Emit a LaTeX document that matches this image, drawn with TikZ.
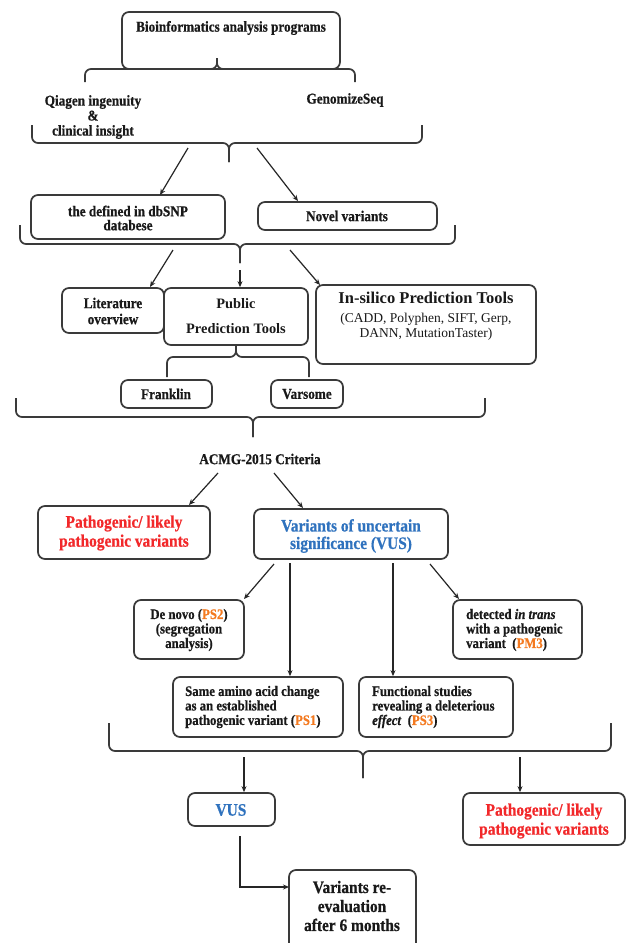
\documentclass[tikz,border=0pt]{standalone}
\usepackage{fontspec}
\setmainfont{Liberation Serif}[FakeStretch=0.88,BoldFeatures={FakeBold=0.6},BoldItalicFeatures={FakeBold=0.6}]
\newfontfamily\plainserif{Liberation Serif}
\usetikzlibrary{arrows.meta}
\definecolor{boxline}{HTML}{3A3A3A}
\definecolor{myred}{HTML}{F2282A}
\definecolor{myblue}{HTML}{2F72BE}
\definecolor{myorange}{HTML}{F47A20}
\newcommand\acode[1]{\textcolor{myorange}{#1}}
\newcommand\fsz[2]{\fontsize{#1}{#2}\selectfont}
\begin{document}
\begin{tikzpicture}[x=1pt,y=-1pt,
  box/.style={draw=boxline, line width=1.7pt, rounded corners=7pt, inner sep=0pt},
  txt/.style={inner sep=0pt, align=center, text=black!90, font=\bfseries\fsz{15}{15}},
  lowtxt/.style={inner sep=0pt, text=black!90, font=\bfseries\fsz{14.5}{14.5}},
  redtxt/.style={inner sep=0pt, align=center, text=myred, font=\bfseries\fsz{17.5}{19}},
  bluetxt/.style={inner sep=0pt, align=center, text=myblue, font=\bfseries\fsz{17.5}{17.5}},
  arr/.style={draw=black!85, line width=1.2pt, -{Stealth[length=6pt,width=5pt]}},
  brc/.style={draw=boxline, line width=1.7pt, rounded corners=6pt}]
\clip (0,0) rectangle (626,943);
\fill[white] (0,0) rectangle (626,943);

% ---------- boxes ----------
\node[box, minimum width=218, minimum height=57] (bio) at (231,40.5) {};
\node[box, minimum width=194, minimum height=44] (dbsnp) at (128,217) {};
\node[box, minimum width=179, minimum height=28] (novel) at (347.5,216) {};
\node[box, minimum width=102, minimum height=45] (lit) at (113,310.5) {};
\node[box, minimum width=144, minimum height=57] (pub) at (236,316.5) {};
\node[box, minimum width=220, minimum height=79] (insil) at (426,324.5) {};
\node[box, minimum width=91, minimum height=28] (frank) at (166.5,394) {};
\node[box, minimum width=72, minimum height=28] (vars) at (307,394) {};
\node[box, minimum width=172, minimum height=53] (path1) at (124,532.5) {};
\node[box, minimum width=194, minimum height=50] (vus) at (351,534) {};
\node[box, minimum width=110, minimum height=59] (denovo) at (189,629.5) {};
\node[box, minimum width=129, minimum height=59] (detect) at (517.5,629.5) {};
\node[box, minimum width=170, minimum height=60] (same) at (258,707) {};
\node[box, minimum width=154, minimum height=60] (func) at (436,707) {};
\node[box, minimum width=87, minimum height=33] (vus2) at (231.5,809.5) {};
\node[box, minimum width=162, minimum height=52] (path2) at (544,819) {};
\node[box, minimum width=127, minimum height=80] (reeval) at (352.5,910) {};

% ---------- texts ----------
\node[txt] (biot) at (231,28) {Bioinformatics analysis programs};
\node[txt] (qiat) at (93,117) {Qiagen ingenuity\\\&\\clinical insight};
\node[txt] (gent) at (345,100) {GenomizeSeq};
\node[txt, font=\bfseries\fsz{15}{14}] (dbt) at (128,218) {the defined in dbSNP\\databese};
\node[txt] (novt) at (347,216) {Novel variants};
\node[txt, font=\bfseries\fsz{15}{16}] (litt) at (113,311) {Literature\\overview};
\node[txt, font=\plainserif\bfseries\fsz{14.4}{25}] (pubt) at (236,316) {Public\\Prediction Tools};
\node[txt, font=\plainserif\bfseries\fsz{16.5}{16}] (inst) at (426,298) {In-silico Prediction Tools};
\node[txt, font=\plainserif\fsz{13.5}{15}] (insl) at (426,327) {(CADD, Polyphen, SIFT, Gerp,\\DANN, MutationTaster)};
\node[txt] (frat) at (166,394) {Franklin};
\node[txt] (vart) at (307,394) {Varsome};
\node[txt] (acmg) at (260,459) {ACMG-2015 Criteria};
\node[redtxt] (p1t) at (124,533) {Pathogenic/ likely\\pathogenic variants};
\node[bluetxt] (vust) at (351,536) {Variants of uncertain\\significance (VUS)};
\node[lowtxt, align=center] (dnt) at (189,630) {De novo (\acode{PS2})\\(segregation\\analysis)};
\node[lowtxt, align=left, anchor=west] (dett) at (466,630) {detected \textit{in trans}\\with a pathogenic\\variant~ (\acode{PM3})};
\node[lowtxt, align=left, anchor=west] (samt) at (185,707) {Same amino acid change\\as an established\\pathogenic variant (\acode{PS1})};
\node[lowtxt, align=left, anchor=west] (funt) at (372,707) {Functional studies\\revealing a deleterious\\\textit{effect}~ (\acode{PS3})};
\node[bluetxt] (vus2t) at (231,810) {VUS};
\node[redtxt] (p2t) at (544,821) {Pathogenic/ likely\\pathogenic variants};
\node[txt, font=\bfseries\fsz{17.5}{19}] (ret) at (352,906) {Variants re-\\evaluation\\after 6 months};

% ---------- braces ----------
\coordinate (b1tip) at (217,58);
\draw[brc] (85,82) |- (217,69) -- (b1tip);
\draw[brc] (355,82) |- (217,69) -- (b1tip);
\coordinate (b2tip) at (229,162);
\draw[brc] (32,125) |- (229,143) -- (b2tip);
\draw[brc] (422,125) |- (229,143) -- (b2tip);
\coordinate (b3tip) at (240,263);
\draw[brc] (20,225) |- (240,244) -- (b3tip);
\draw[brc] (455,225) |- (240,244) -- (b3tip);
\coordinate (b4mid) at (236,357);
\draw[brc] (167,377) |- (b4mid) -- (pub.south);
\draw[brc] (309,377) |- (b4mid) -- (pub.south);
\coordinate (b5tip) at (253,437);
\draw[brc] (16,398) |- (253,417) -- (b5tip);
\draw[brc] (485,398) |- (253,417) -- (b5tip);
\coordinate (b6tip) at (363,778);
\draw[brc] (109,723) |- (363,751) -- (b6tip);
\draw[brc] (611,723) |- (363,751) -- (b6tip);

% ---------- arrows ----------
\coordinate (a1s) at (188,148); \coordinate (a1e) at (160,195);
\draw[arr] (a1s) -- (a1e);
\coordinate (a2s) at (257,148); \coordinate (a2e) at (298,201);
\draw[arr] (a2s) -- (a2e);
\coordinate (a3s) at (173,250); \coordinate (a3e) at (150,287);
\draw[arr] (a3s) -- (a3e);
\coordinate (a4s) at (240,270);
\draw[arr] (a4s) -- (a4s |- pub.north);
\coordinate (a5s) at (290,250); \coordinate (a5e) at (320,285);
\draw[arr] (a5s) -- (a5e);
\coordinate (a6s) at (218,473); \coordinate (a6e) at (189,505);
\draw[arr] (a6s) -- (a6e);
\coordinate (a7s) at (274,473); \coordinate (a7e) at (303,508);
\draw[arr] (a7s) -- (a7e);
\coordinate (a8s) at (274,564); \coordinate (a8e) at (244,599);
\draw[arr] (a8s) -- (a8e);
\coordinate (a9s) at (290,563);
\draw[arr] (a9s) -- (a9s |- same.north);
\coordinate (a10s) at (393,563);
\draw[arr] (a10s) -- (a10s |- func.north);
\coordinate (a11s) at (430,564); \coordinate (a11e) at (459,599);
\draw[arr] (a11s) -- (a11e);
\coordinate (a12s) at (244,757);
\draw[arr] (a12s) -- (a12s |- vus2.north);
\coordinate (a13s) at (520,757);
\draw[arr] (a13s) -- (a13s |- path2.north);
\coordinate (a14s) at (240,836); \coordinate (a14e) at (289,887);
\draw[arr] (a14s) |- (a14e);
\end{tikzpicture}
\end{document}
